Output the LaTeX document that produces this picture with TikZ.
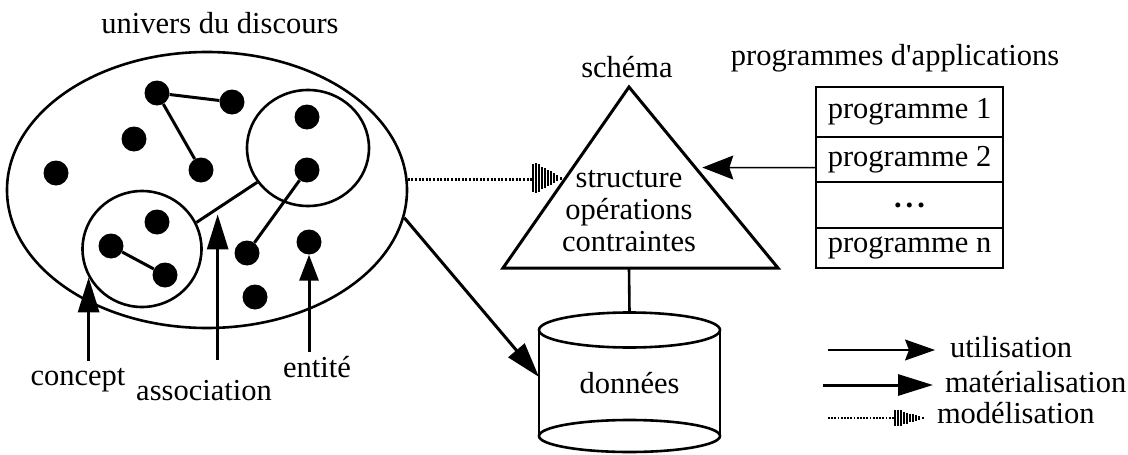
\documentclass[tikz,border=0pt]{standalone}
\usepackage{fontspec}
\setmainfont{Liberation Serif}
\usetikzlibrary{arrows.meta,positioning,shapes.geometric,calc}
\definecolor{drawColor}{RGB}{0,0,0}
\definecolor{fillColor}{RGB}{255,255,255}

\tikzset{
  dot/.style={circle,fill=drawColor,inner sep=0pt,minimum size=25pt},
  link/.style={draw=drawColor,line width=3pt},
  lbl/.style={text=drawColor,inner sep=0pt,outer sep=0pt},
  ring/.style={draw=drawColor,line width=2.6pt,ellipse,inner sep=0pt},
  prog/.style={draw=drawColor,line width=2.6pt,minimum width=187pt,inner sep=2pt,outer sep=0pt},
  mat/.style={draw=drawColor,line width=3pt,-{Triangle[length=35pt,width=21pt]}},
  util/.style={draw=drawColor,line width=1.5pt,-{Stealth[length=31pt,width=24pt,inset=4pt]}},
  modl/.style={draw=drawColor,line width=2.2pt,dash pattern=on 2pt off 1.6pt},
  modtip/.pic={
    \foreach \dx/\h in {0/14,3/15,6/14,9/11,12/10,15/8,18/7,21/5,24/3,28/1.5}
      \draw[drawColor,line width=1.3pt] (\dx,-\h) -- (\dx,\h);
  }
}

\begin{document}
\begin{tikzpicture}[x=1pt,y=-1pt,font=\fontsize{30.5}{32}\selectfont]
\path[use as bounding box,fill=fillColor] (0,0) rectangle (1128,455);

\node[lbl,anchor=base] (univtitle) at (220,33) {univers du discours};
\node[ring,minimum width=400pt,minimum height=276pt] (univers) at (207,190) {};
\node[ring,minimum width=122pt,minimum height=116pt] (cR) at (308,148) {};
\node[ring,minimum width=119pt,minimum height=116pt] (cL) at (142,249) {};

\node[dot] (e1) at (157,93) {};
\node[dot] (e2) at (232,102) {};
\node[dot] (e3) at (134,139) {};
\node[dot] (e4) at (56,173) {};
\node[dot] (e5) at (201,170) {};
\node[dot] (e6) at (307,117) {};
\node[dot] (e7) at (307,170) {};
\node[dot] (e8) at (157,222) {};
\node[dot] (e9) at (111,246) {};
\node[dot] (e10) at (165,275) {};
\node[dot] (e11) at (247,253) {};
\node[dot] (e12) at (309,242) {};
\node[dot] (e13) at (255,297) {};

\draw[link] (e1) -- (e2);
\draw[link] (e1) -- (e5);
\draw[link] (e7) -- (e11);
\draw[link] (e9) -- (e10);
\draw[link] (cL.26) -- (cR.214) coordinate[pos=0.35] (asc);

\node[lbl,anchor=base] (concept) at (78,385) {concept};
\node[lbl,anchor=base] (assoc) at (204,400) {association};
\node[lbl,anchor=base] (entite) at (317,377) {entité};
\draw[mat,shorten <=7pt] (cL.208 |- concept.north) -- (cL.208);
\draw[mat,shorten <=20pt,shorten >=6pt] (asc |- assoc.north) -- (asc);
\draw[mat,-{Triangle[length=26pt,width=19pt]},shorten <=4pt] (e12.south |- entite.north) -- (e12.south);

\coordinate (sA) at (629,87);
\coordinate (sB) at (503,268);
\coordinate (sC) at (778,268);
\draw[draw=drawColor,line width=3pt] (sA) -- (sB) -- (sC) -- cycle;
\node[lbl,anchor=base] (schema) at (627,77) {schéma};
\node[lbl,align=center] (stext) at (629,211) {structure\\opérations\\contraintes};

\node[lbl,minimum width=181pt,minimum height=106pt] (db) at (629.5,383) {données};
\draw[drawColor,line width=2.6pt] (db.north) ellipse [x radius=90.5pt,y radius=17.5pt];
\draw[drawColor,line width=2.6pt] (db.south) ellipse [x radius=90.5pt,y radius=16pt];
\draw[drawColor,line width=2.6pt] (db.north west) -- (db.south west) (db.north east) -- (db.south east);
\draw[drawColor,line width=2.6pt] (sA |- sB) -- ([yshift=17.5pt]db.north);
\draw[mat] (univers.-8) -- ([yshift=6pt]db.west);

\node[lbl,anchor=base] (progtitle) at (895,65) {programmes d\textquotesingle applications};
\node[prog,minimum height=50pt] (p1) at (909.5,112) {programme 1};
\node[prog,minimum height=45pt,below=0pt of p1] (p2) {programme 2};
\node[prog,minimum height=46pt,below=0pt of p2] (p3) {\bfseries .\hspace{4pt}.\hspace{4pt}.};
\node[prog,minimum height=40pt,below=0pt of p3] (pn) {programme n};
\draw[util,shorten >=7pt] ([yshift=-8pt]p2.west) -- ($(sA)!0.445!(sC)$);

\coordinate (modend) at (533,178);
\draw[modl] (univers.3.5) -- (univers.3.5 -| modend);
\pic at (modend) {modtip};

\node[lbl,anchor=base west] (lgu) at (950,357) {utilisation};
\node[lbl,anchor=base west] (lgm) at (945,392) {matérialisation};
\node[lbl,anchor=base west] (lgd) at (937,423) {modélisation};
\coordinate (u0) at (828,350);
\coordinate (m0) at (823,385);
\coordinate (d0) at (828,418);
\coordinate (d1) at (895,418);
\draw[util,line width=1.2pt,-{Stealth[length=30pt,width=21pt,inset=4pt]},shorten >=15pt] (u0) -- (u0 -| lgu.west);
\draw[mat,shorten >=12pt] (m0) -- (m0 -| lgm.west);
\draw[modl,line width=1.8pt,dash pattern=on 1.8pt off 1.4pt] (d0) -- (d1);
\pic[yscale=0.55] at (d1) {modtip};
\end{tikzpicture}
\end{document}
